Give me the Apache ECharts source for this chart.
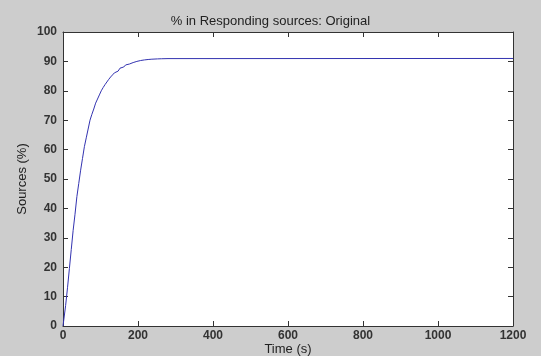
<!DOCTYPE html>
<html><head><meta charset="utf-8">
<script src="https://cdn.jsdelivr.net/npm/echarts@6/dist/echarts.min.js"></script>
<style>html,body{margin:0;padding:0;background:#cdcdcd;}#c{width:541px;height:356px;}</style>
</head><body><div id="c"></div>
<script>
const title = "% in Responding sources: Original";
const xName = "Time (s)";
const yName = "Sources (%)";
const times  = [0, 2, 7, 12, 17, 22, 27, 32, 37, 42, 47, 52, 57, 62, 67, 72, 77, 82, 87, 92, 97, 102,
                107, 112, 117, 122, 127, 132, 137, 142, 147, 152, 157, 162, 167, 172, 177, 182, 187, 192,
                197, 202, 207, 212, 217, 222, 227, 232, 237, 242, 252, 262, 280, 1200];
const values = [0, 2, 7, 13, 19.5, 26, 32.5, 38, 44, 48.5, 53, 57, 61, 64, 67, 70, 72, 73.8, 75.8, 77.2, 78.6, 80,
                81.1, 82.1, 83.0, 83.9, 84.7, 85.4, 86.1, 86.7, 87.2, 87.7, 88.1, 88.5, 88.8, 89.1, 89.4, 89.6, 89.8, 90.0,
                90.15, 90.3, 90.4, 90.5, 90.6, 90.65, 90.7, 90.75, 90.8, 90.85, 90.9, 90.95, 91, 91];
const xTicks = [0, 200, 400, 600, 800, 1000, 1200];
const yTicks = [0, 10, 20, 30, 40, 50, 60, 70, 80, 90, 100];

// stair-step vertices built from the data (value holds until next time)
const stepData = [[times[0], values[0]]];
for (let i = 1; i < times.length; i++) {
  stepData.push([times[i], values[i - 1]]);
  stepData.push([times[i], values[i]]);
}

const FONT = 'Liberation Sans, Arial, sans-serif';
function lab(m) { return {show: true, margin: m, color: '#333', fontFamily: FONT, fontSize: 12, fontWeight: 'bold', formatter: v => String(v)}; }
function axLine() { return {show: true, onZero: false, lineStyle: {color: '#333', width: 1}}; }
function tick() { return {show: true, inside: true, length: 5, lineStyle: {color: '#333', width: 1}}; }

const chart = echarts.init(document.getElementById('c'), null, {renderer: 'canvas'});
chart.setOption({
  backgroundColor: '#cdcdcd',
  animation: false,
  title: {text: title, left: 'center', top: 10, textStyle: {fontFamily: FONT, fontSize: 13, fontWeight: 'normal', color: '#222'}},
  grid: {left: 63, right: 28, top: 32, bottom: 30, backgroundColor: '#ffffff', show: true, borderWidth: 0,
         containLabel: false, outerBoundsMode: 'none'},
  xAxis: [
    {type: 'value', min: xTicks[0], max: xTicks[xTicks.length - 1], interval: xTicks[1] - xTicks[0], position: 'bottom',
     name: xName, nameLocation: 'middle', nameGap: 17, nameMoveOverlap: false,
     nameTextStyle: {color: '#222', fontFamily: FONT, fontSize: 13},
     axisLine: axLine(), axisTick: tick(), axisLabel: lab(4), splitLine: {show: false}},
    {type: 'value', min: xTicks[0], max: xTicks[xTicks.length - 1], interval: xTicks[1] - xTicks[0], position: 'top',
     axisLine: axLine(), axisTick: tick(), axisLabel: {show: false}, splitLine: {show: false}}
  ],
  yAxis: [
    {type: 'value', min: yTicks[0], max: yTicks[yTicks.length - 1], interval: yTicks[1] - yTicks[0], position: 'left',
     name: yName, nameLocation: 'middle', nameGap: 34, nameMoveOverlap: false,
     nameTextStyle: {color: '#222', fontFamily: FONT, fontSize: 13},
     axisLine: axLine(), axisTick: tick(), axisLabel: lab(6), splitLine: {show: false}},
    {type: 'value', min: yTicks[0], max: yTicks[yTicks.length - 1], interval: yTicks[1] - yTicks[0], position: 'right',
     axisLine: axLine(), axisTick: tick(), axisLabel: {show: false}, splitLine: {show: false}}
  ],
  series: [{
    type: 'line', xAxisIndex: 0, yAxisIndex: 0, showSymbol: false, sampling: 'none',
    lineStyle: {color: '#3333b0', width: 1, join: 'miter', cap: 'butt'},
    data: stepData
  }]
});
</script></body></html>
